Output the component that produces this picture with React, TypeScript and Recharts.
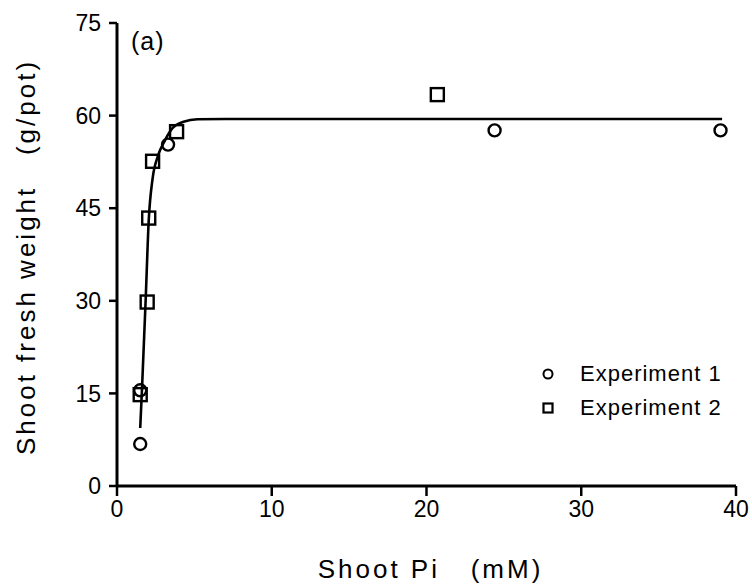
import React from 'react';
import { ScatterChart, Scatter, XAxis, YAxis, Label } from 'recharts';

// Experiment 1 (open circles)
const exp1X = [1.5, 1.5, 3.3, 24.4, 39.0];
const exp1Y = [6.8, 15.5, 55.3, 57.6, 57.6];

// Experiment 2 (open squares)
const exp2X = [1.5, 1.95, 2.05, 2.3, 3.85, 20.7];
const exp2Y = [14.8, 29.8, 43.4, 52.6, 57.4, 63.4];

// fitted curve
const fitX = [1.5, 1.62, 1.85, 2.05, 2.3, 2.65, 3.1, 3.6, 4.3, 5.2, 7.0, 39.1];
const fitY = [9.4, 16.0, 30.0, 43.0, 49.8, 53.5, 56.0, 58.0, 59.0, 59.4, 59.45, 59.45];

const xTicks = [0, 10, 20, 30, 40];
const yTicks = [0, 15, 30, 45, 60, 75];
const seriesNames = ['Experiment 1', 'Experiment 2'];

const zip = (xs: number[], ys: number[]) => xs.map((x, i) => ({ x, y: ys[i] }));
const exp1 = zip(exp1X, exp1Y);
const exp2 = zip(exp2X, exp2Y);
const fit = zip(fitX, fitY);

const FONT = '"Liberation Sans", Arial, Helvetica, sans-serif';

const CircleDot = (props: any) => {
  const { cx, cy } = props;
  return <circle cx={cx} cy={cy} r={6} fill="none" stroke="#000" strokeWidth={2.4} />;
};

const SquareDot = (props: any) => {
  const { cx, cy } = props;
  return <rect x={cx - 6.5} y={cy - 6.5} width={13} height={13} fill="none" stroke="#000" strokeWidth={2.4} />;
};

const NoDot = () => <g />;

const LegendBox = () => (
  <div
    style={{
      position: 'absolute',
      left: 532,
      top: 357,
      fontFamily: FONT,
      fontSize: 22,
      letterSpacing: 1,
      color: '#000',
      lineHeight: '34px',
    }}
  >
    {seriesNames.map((name, i) => (
      <div key={name} style={{ display: 'flex', alignItems: 'center' }}>
        <svg width={48} height={20}>
          {i === 0 ? (
            <circle cx={16} cy={10} r={4.5} fill="none" stroke="#000" strokeWidth={2} />
          ) : (
            <rect x={11.5} y={5.5} width={9} height={9} fill="none" stroke="#000" strokeWidth={2.2} />
          )}
        </svg>
        <span>{name}</span>
      </div>
    ))}
  </div>
);

export default function App() {
  const tickStyle = { fill: '#000', fontSize: 23, fontFamily: FONT };
  return (
    <div style={{ position: 'absolute', left: 0, top: 0, width: 752, height: 587, background: '#fff' }}>
      <ScatterChart width={752} height={587} margin={{ top: 23, right: 16, bottom: 0, left: 0 }}>
        <XAxis
          type="number"
          dataKey="x"
          domain={[0, 40]}
          ticks={xTicks}
          height={101}
          tickSize={10}
          tickMargin={5}
          tick={tickStyle}
          axisLine={{ stroke: '#000', strokeWidth: 3 }}
          tickLine={{ stroke: '#000', strokeWidth: 2.5 }}
          allowDataOverflow
        >
          <Label
            content={(p: any) => {
              const vb = p.viewBox;
              return (
                <text
                  x={vb.x + vb.width / 2 + 4}
                  y={vb.y + 92}
                  textAnchor="middle"
                  style={{ whiteSpace: 'pre', fontFamily: FONT, fontSize: 26, letterSpacing: 3, fill: '#000' }}
                >
                  {'Shoot Pi   (mM)'}
                </text>
              );
            }}
          />
        </XAxis>
        <YAxis
          type="number"
          dataKey="y"
          domain={[0, 75]}
          ticks={yTicks}
          width={117}
          tickSize={8}
          tickMargin={8}
          tick={tickStyle}
          axisLine={{ stroke: '#000', strokeWidth: 3 }}
          tickLine={{ stroke: '#000', strokeWidth: 2.5 }}
          allowDataOverflow
        >
          <Label
            content={(p: any) => {
              const vb = p.viewBox;
              const cx = 26;
              const cy = vb.y + 234;
              return (
                <text
                  x={cx}
                  y={cy}
                  transform={`rotate(-90, ${cx}, ${cy})`}
                  textAnchor="middle"
                  dominantBaseline="central"
                  style={{ whiteSpace: 'pre', fontFamily: FONT, fontSize: 26, letterSpacing: 3, fill: '#000' }}
                >
                  {'Shoot fresh weight   (g/pot)'}
                </text>
              );
            }}
          />
        </YAxis>
        <Scatter
          name="fit"
          data={fit}
          line={{ stroke: '#000', strokeWidth: 2.6 }}
          lineJointType="monotoneX"
          shape={NoDot}
          legendType="none"
          isAnimationActive={false}
        />
        <Scatter name={seriesNames[0]} data={exp1} shape={CircleDot} isAnimationActive={false} />
        <Scatter name={seriesNames[1]} data={exp2} shape={SquareDot} isAnimationActive={false} />
      </ScatterChart>
      <LegendBox />
      <div
        style={{
          position: 'absolute',
          left: 131,
          top: 27,
          fontFamily: FONT,
          fontSize: 25,
          letterSpacing: 1,
          color: '#000',
          lineHeight: '28px',
        }}
      >
        (a)
      </div>
    </div>
  );
}
